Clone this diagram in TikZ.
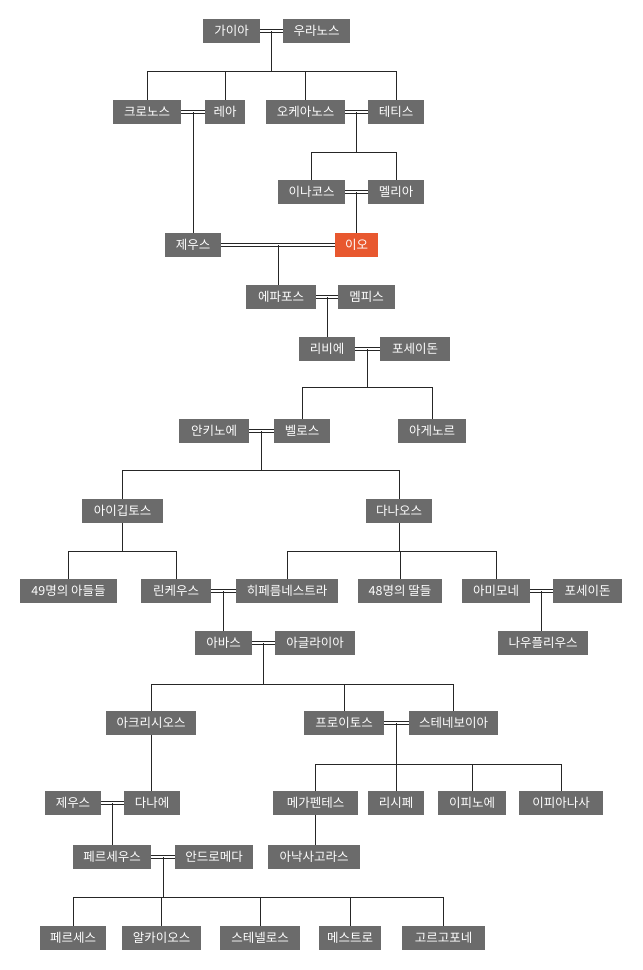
\documentclass[tikz,border=0pt]{standalone}
\usepackage{fontspec}
\setmainfont{Noto Sans CJK KR}
\usetikzlibrary{calc}
\begin{document}
\begin{tikzpicture}[x=1pt,y=-1pt,
  bx/.style={fill=boxgray,text=white,inner sep=0pt,minimum height=24pt,font=\fontsize{12.5}{14}\selectfont},
  ln/.style={draw=black!85,line width=0.8pt},
  dbl/.style={draw=black!85,line width=0.7pt,double=white,double distance=2.2pt}]
\definecolor{boxgray}{HTML}{6B6B6B}
\definecolor{ioorange}{HTML}{E8582F}
\useasboundingbox (0,0) rectangle (643,970);
\fill[white] (0,0) rectangle (643,970);
\newcommand\bx[5]{\node[bx,minimum width={#3-#2}] (#1) at ({(#2+#3)/2},#4) {#5};}
% nodes
\bx{gaia}{203}{260}{31}{가이아}
\bx{uranos}{283}{350}{31}{우라노스}
\bx{kronos}{113}{181}{112}{크로노스}
\bx{rhea}{205}{245}{112}{레아}
\bx{okeanos}{266}{345}{112}{오케아노스}
\bx{tethys}{368}{424}{112}{테티스}
\bx{inachos}{278}{345}{192}{이나코스}
\bx{melia}{368}{424}{192}{멜리아}
\bx{zeusA}{165}{221}{245}{제우스}
\node[bx,fill=ioorange,minimum width=43pt] (io) at (356.5,245) {이오};
\bx{epaphos}{246}{316}{297}{에파포스}
\bx{memphis}{338}{395}{297}{멤피스}
\bx{libye}{299}{355}{349}{리비에}
\bx{poseidonA}{380}{450}{349}{포세이돈}
\bx{anchinoe}{179}{249}{431}{안키노에}
\bx{belos}{274}{330}{431}{벨로스}
\bx{agenor}{398}{466}{431}{아게노르}
\bx{aigyptos}{82}{163}{511}{아이깁토스}
\bx{danaos}{366}{432}{511}{다나오스}
\bx{sons}{20}{117}{591}{49명의 아들들}
\bx{lynkeus}{141}{211}{591}{린케우스}
\bx{hyperm}{236}{338}{591}{히페름네스트라}
\bx{daughters}{358}{442}{591}{48명의 딸들}
\bx{amymone}{462}{530}{591}{아미모네}
\bx{poseidonB}{553}{622}{591}{포세이돈}
\bx{abas}{195}{252}{643}{아바스}
\bx{aglaia}{275}{355}{643}{아글라이아}
\bx{nauplios}{498}{588}{643}{나우플리우스}
\bx{akrisios}{106}{196}{723}{아크리시오스}
\bx{proitos}{304}{384}{723}{프로이토스}
\bx{stheneboia}{409}{498}{723}{스테네보이아}
\bx{zeusB}{45}{101}{803}{제우스}
\bx{danae}{124}{180}{803}{다나에}
\bx{megapenthes}{273}{358}{803}{메가펜테스}
\bx{lysippe}{368}{424}{803}{리시페}
\bx{iphinoe}{438}{506}{803}{이피노에}
\bx{iphianassa}{519}{603}{803}{이피아나사}
\bx{perseus}{73}{151}{857}{페르세우스}
\bx{andromeda}{175}{253}{857}{안드로메다}
\bx{anaxagoras}{268}{360}{857}{아낙사고라스}
\bx{perses}{40}{106}{938}{페르세스}
\bx{alkaios}{122}{201}{938}{알카이오스}
\bx{sthenelos}{220}{300}{938}{스테넬로스}
\bx{mestor}{319}{381}{938}{메스트로}
\bx{gorgophone}{402}{485}{938}{고르고포네}
% marriages
\foreach \a/\b/\m in {gaia/uranos/m1,kronos/rhea/m2,okeanos/tethys/m3,inachos/melia/m4,zeusA/io/m5,epaphos/memphis/m6,libye/poseidonA/m7,anchinoe/belos/m8,lynkeus/hyperm/m9,amymone/poseidonB/m10,abas/aglaia/m11,proitos/stheneboia/m12,zeusB/danae/m13,perseus/andromeda/m14}{
  \draw[dbl] (\a.east) -- (\b.west);
  \coordinate (\m) at ($(\a.east)!0.5!(\b.west)$);
}
% bar levels
\coordinate (y1) at (0,71);
\coordinate (y3) at (0,152);
\coordinate (y7) at (0,387);
\coordinate (y8) at (0,470);
\coordinate (yA) at (0,551);
\coordinate (y11) at (0,684);
\coordinate (y12) at (0,764);
\coordinate (y14) at (0,897);
% children
\foreach \c in {kronos,rhea,okeanos,tethys}{\draw[ln] (m1) -- (m1|-y1) -| (\c.north);}
\foreach \c in {inachos,melia}{\draw[ln] (m3) -- (m3|-y3) -| (\c.north);}
\draw[ln] (m2) -- (m2|-zeusA.north);
\draw[ln] (m4) -- (m4|-io.north);
\draw[ln] (m5) -- (m5|-epaphos.north);
\draw[ln] (m6) -- (m6|-libye.north);
\foreach \c in {belos,agenor}{\draw[ln] (m7) -- (m7|-y7) -| (\c.north);}
\foreach \c in {aigyptos,danaos}{\draw[ln] (m8) -- (m8|-y8) -| (\c.north);}
\foreach \c in {sons,lynkeus}{\draw[ln] (aigyptos.south) -- (aigyptos.south|-yA) -| (\c.north);}
\foreach \c in {hyperm,daughters,amymone}{\draw[ln] (danaos.south) -- (danaos.south|-yA) -| (\c.north);}
\draw[ln] (m9) -- (m9|-abas.north);
\draw[ln] (m10) -- (m10|-nauplios.north);
\foreach \c in {akrisios,proitos,stheneboia}{\draw[ln] (m11) -- (m11|-y11) -| (\c.north);}
\draw[ln] (akrisios.south) -- (akrisios.south|-danae.north);
\foreach \c in {megapenthes,lysippe,iphinoe,iphianassa}{\draw[ln] (m12) -- (m12|-y12) -| (\c.north);}
\draw[ln] (megapenthes.south) -- (megapenthes.south|-anaxagoras.north);
\draw[ln] (m13) -- (m13|-perseus.north);
\foreach \c in {perses,alkaios,sthenelos,mestor,gorgophone}{\draw[ln] (m14) -- (m14|-y14) -| (\c.north);}
\end{tikzpicture}
\end{document}
